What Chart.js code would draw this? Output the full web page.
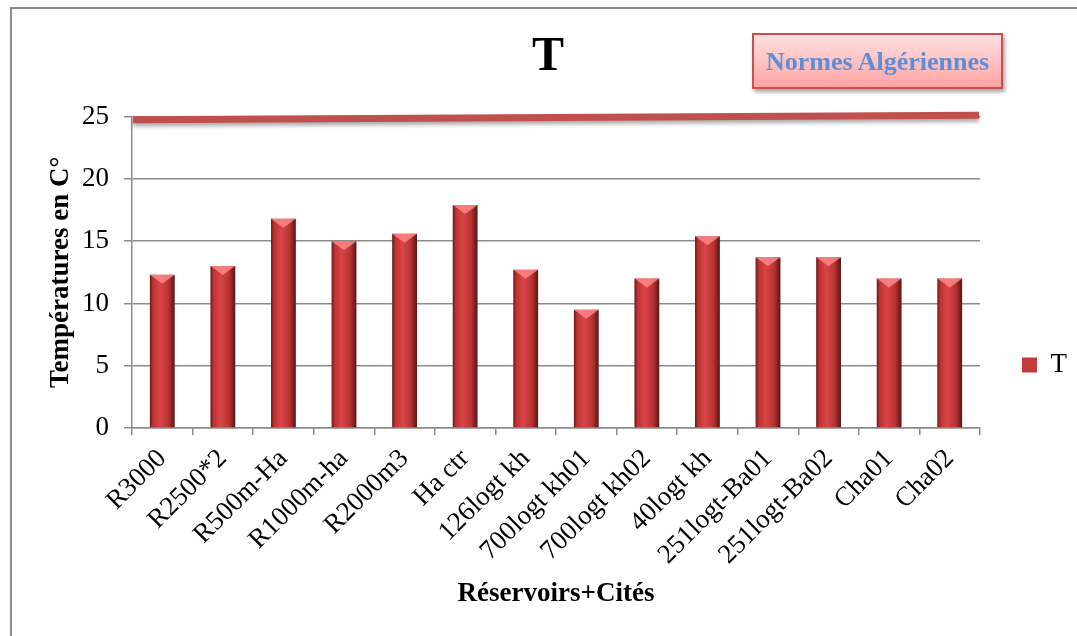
<!DOCTYPE html>
<html>
<head>
<meta charset="utf-8">
<script src="https://cdn.jsdelivr.net/npm/chart.js@4.4.1/dist/chart.umd.min.js"></script>
<style>
  body { margin: 0; background: #fff; }
  #wrap { position: relative; width: 1077px; height: 636px; overflow: hidden; }
  #frame { position: absolute; left: 10px; top: 7px; width: 1100px; height: 700px; border: 2px solid #8c8c8c; }
  #myChart { position: absolute; left: 0; top: 0; }
  #norme {
    position: absolute; left: 752px; top: 33px; width: 247px; height: 52px;
    border: 2px solid #c9504d; background: linear-gradient(#ffe0e0, #ffa4a4);
    box-shadow: 2px 3px 4px rgba(0,0,0,0.35);
    color: #5b8fd8; font: bold 26px 'Liberation Serif', 'Times New Roman', serif;
    text-align: center; line-height: 54px;
  }
</style>
</head>
<body>
<div id="wrap">
  <div id="frame"></div>
  <canvas id="myChart" width="1077" height="636"></canvas>
  <div id="norme">Normes Algériennes</div>
</div>
<script>
var categories = ['R3000', 'R2500*2', 'R500m-Ha', 'R1000m-ha', 'R2000m3', 'Ha ctr', '126logt kh',
  '700logt kh01', '700logt kh02', '40logt kh', '251logt-Ba01', '251logt-Ba02', 'Cha01', 'Cha02'];
var temperatures = [12.3, 13.0, 16.8, 15.0, 15.6, 17.9, 12.7, 9.5, 12.0, 15.4, 13.7, 13.7, 12.0, 12.0];
var yTicks = [0, 5, 10, 15, 20, 25];
var normeLine = [24.75, 25.1]; // left end, right end of the red norm line

var serif = "'Liberation Serif', 'Times New Roman', serif";
Chart.defaults.color = '#000';
Chart.defaults.font.family = serif;

// cylinder-like shading for each bar
function barFill(context) {
  var chart = context.chart;
  if (context.type !== 'data' || !chart.chartArea) return '#c43a3a';
  var x = chart.scales.x.getPixelForValue(context.dataIndex);
  var w = chart.chartArea.width / categories.length * 0.41;
  var g = chart.ctx.createLinearGradient(x - w / 2, 0, x + w / 2, 0);
  g.addColorStop(0, '#6a1717');
  g.addColorStop(0.12, '#bb3232');
  g.addColorStop(0.4, '#d94545');
  g.addColorStop(0.75, '#b83232');
  g.addColorStop(1, '#5a1414');
  return g;
}

var extras = {
  id: 'extras',
  afterDatasetsDraw: function (chart) {
    var c = chart.ctx, y = chart.scales.y, area = chart.chartArea;
    chart.getDatasetMeta(0).data.forEach(function (bar) {
      var l = bar.x - bar.width / 2, r = bar.x + bar.width / 2;
      c.save();
      c.fillStyle = 'rgba(255,140,140,0.8)';
      c.beginPath();
      c.moveTo(l, bar.y);
      c.lineTo(r, bar.y);
      c.lineTo(bar.x, bar.y + 9);
      c.closePath();
      c.fill();
      c.restore();
    });
    // norm line
    c.save();
    c.shadowColor = 'rgba(0,0,0,0.35)';
    c.shadowBlur = 4;
    c.shadowOffsetY = 3;
    c.strokeStyle = '#c0504d';
    c.lineWidth = 7;
    c.beginPath();
    c.moveTo(area.left + 1, y.getPixelForValue(normeLine[0]));
    c.lineTo(area.right - 1, y.getPixelForValue(normeLine[1]));
    c.stroke();
    c.restore();
  }
};

var ctx = document.getElementById('myChart').getContext('2d');
var myChart = new Chart(ctx, {
  type: 'bar',
  data: {
    labels: categories,
    datasets: [{
      label: 'T',
      data: temperatures,
      backgroundColor: barFill,
      borderWidth: 0,
      categoryPercentage: 1,
      barPercentage: 0.41
    }]
  },
  options: {
    responsive: false,
    animation: false,
    layout: { padding: { left: 19, right: 0, top: 0, bottom: 0 } },
    plugins: {
      title: {
        display: true,
        text: 'T',
        font: { size: 48, weight: 'bold', family: serif },
        padding: { top: 29, bottom: 30 }
      },
      legend: {
        position: 'right',
        title: { display: true, text: '', font: { size: 10 }, padding: { top: 82, bottom: 0 } },
        labels: {
          boxWidth: 15,
          boxHeight: 15,
          padding: 42,
          font: { size: 27, family: serif },
          generateLabels: function (chart) {
            var items = Chart.defaults.plugins.legend.labels.generateLabels(chart);
            items.forEach(function (it) { it.fillStyle = '#c43a3a'; it.lineWidth = 0; });
            return items;
          }
        }
      },
      tooltip: { enabled: false }
    },
    scales: {
      x: {
        afterFit: function (scale) { scale.height = 208; },
        grid: { drawOnChartArea: false, offset: true, tickLength: 7, color: '#8c8c8c', lineWidth: 1.5 },
        border: { color: '#8c8c8c', width: 1.5 },
        ticks: { maxRotation: 45, minRotation: 45, autoSkip: false, padding: 8, font: { size: 27 } },
        title: {
          display: true,
          text: 'Réservoirs+Cités',
          font: { size: 27, weight: 'bold', family: serif },
          padding: { top: 0, bottom: 26 }
        }
      },
      y: {
        min: 0,
        max: 25,
        afterFit: function (scale) { scale.width = 113; },
        afterBuildTicks: function (scale) {
          scale.ticks = yTicks.map(function (v) { return { value: v }; });
        },
        grid: { color: '#8c8c8c', lineWidth: 1.5, tickLength: 8 },
        border: { color: '#8c8c8c', width: 1.5 },
        ticks: { padding: 15, font: { size: 27 } },
        title: {
          display: true,
          text: 'Températures en C°',
          font: { size: 27, weight: 'bold', family: serif },
          padding: { top: 26, bottom: 0 }
        }
      }
    }
  },
  plugins: [extras]
});
</script>
</body>
</html>
